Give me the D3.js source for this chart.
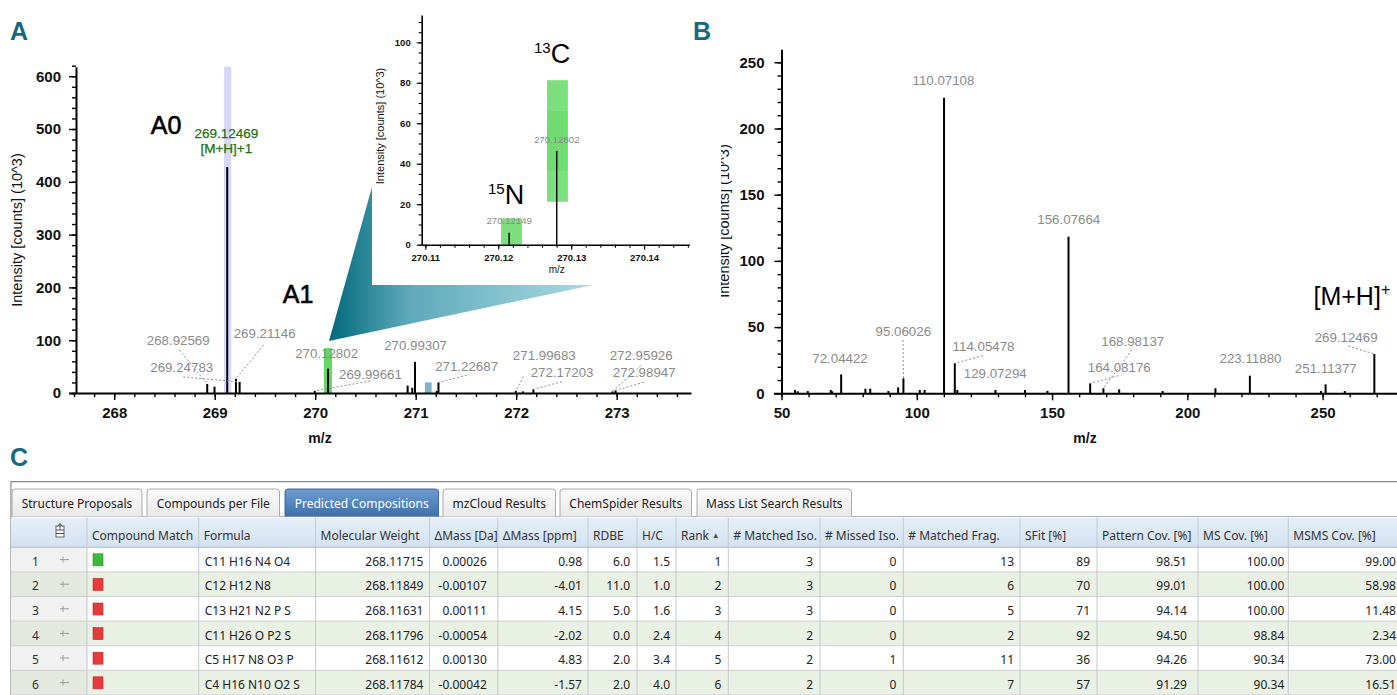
<!DOCTYPE html>
<html>
<head>
<meta charset="utf-8">
<script src="https://cdn.jsdelivr.net/npm/d3@7"></script>
<style>
  body { margin: 0; background: #fff; }
  svg { display: block; font-family: "Liberation Sans", Arial, sans-serif; }
  .tbl text { font-family: "Noto Sans", sans-serif; }
</style>
</head>
<body>
<svg id="fig" width="1397" height="695"></svg>
<script>
// ---------- panel A : full scan around the precursor (m/z, intensity in 10^3) ----------
const mzA  = [268.92569, 268.998, 269.12469, 269.21146, 269.24783, 269.99661, 270.12802,
              270.920, 270.966, 270.99307, 271.210, 271.22687, 271.99683, 272.067, 272.17203,
              272.95926, 272.98947];
const intA = [17, 12, 428, 27, 21, 4, 46, 14, 10, 59, 4, 20, 4, 3, 7, 3, 5];

// labelled peaks, where each label sits and where its dashed leader starts (data units)
const labelMzA  = [268.92569, 269.24783, 269.21146, 270.12802, 269.99661, 270.99307,
                   271.22687, 271.99683, 272.17203, 272.95926, 272.98947];
const labelAtA  = [[268.637, 90.9], [268.672, 40.3], [269.497, 104], [270.114, 66.9], [270.55, 26.5],
                   [270.999, 81.4], [271.507, 41.7], [272.28, 62.5], [272.457, 30.3], [273.244, 62.5], [273.274, 30.3]];
const leadFromA = [[268.647, 81.4], [268.687, 30.3], [269.486, 91], null, [270.547, 22.7], null,
                   [271.509, 34], [272.073, 30.9], [272.455, 21.4], [273.24, 51.7], [273.27, 20.3]];

// highlighted isotope windows (m/z from - to, intensity top)
const bandLoA  = [269.092, 270.087, 271.092];
const bandHiA  = [269.165, 270.167, 271.159];
const bandTopA = [618, 85, 20];
const bandColA = ["#d7d7f7", "#62d862", "#7fb3c8"];

const precursorTxt = ["269.12469", "[M+H]+1"];

// ---------- inset : zoom on A1 ----------
const mzIn  = [270.12149, 270.12802];
const intIn = [5.9, 46.3];
const boxLoIn  = [270.12038, 270.12668, 270.12668];
const boxHiIn  = [270.12326, 270.12955, 270.12955];
const boxBotIn = [0, 21.2, 36.5];
const boxTopIn = [13, 81.3, 66];
const labelAtIn = [[270.1215, 10.2], [270.12803, 50.4]];

// ---------- panel B : MS2 of 269.12469 ----------
const mzB  = [55.0, 56.0, 59.7, 68.2, 68.7, 72.04422, 81.0, 82.8, 89.5, 93.1, 95.06026, 101.1, 102.9,
              110.07108, 114.05478, 115.0, 129.07294, 140.0, 148.3, 156.07664, 164.08176, 168.98137,
              174.8, 190.9, 210.4, 223.1188, 249.4, 251.11377, 258.2, 269.12469];
const intB = [2.5, 1.5, 1.7, 2.5, 1.5, 14.3, 3.5, 3.5, 1.7, 4.5, 11.3, 2.5, 2.5,
              223.3, 22.7, 2.5, 2.5, 2.5, 1.8, 118.3, 7.5, 3.8,
              3, 1.7, 3.8, 13.3, 1.7, 6.8, 1.7, 29.7];
const labelMzB  = [72.04422, 95.06026, 110.07108, 114.05478, 129.07294, 156.07664,
                   164.08176, 168.98137, 223.1188, 251.11377, 269.12469];
const labelAtB  = [[71.63, 23.1], [95.03, 43.3], [109.85, 232.9], [124.68, 31.9], [129.0, 11.8], [156.17, 127.6],
                   [174.84, 16.3], [179.83, 35.7], [223.35, 22.7], [251.18, 15.1], [258.69, 39]];
const leadFromB = [null, [94.92, 40.3], null, [124.38, 28.4], null, null,
                   [174.5, 13.3], [179.46, 32.7], null, null, [259.54, 35.7]];

// ---------- panel C : predicted compositions table ----------
const tabNames = ["Structure Proposals", "Compounds per File", "Predicted Compositions",
                  "mzCloud Results", "ChemSpider Results", "Mass List Search Results"];
const headers = ["", "Compound Match", "Formula", "Molecular Weight", "ΔMass [Da]", "ΔMass [ppm]", "RDBE", "H/C",
                 "Rank", "# Matched Iso.", "# Missed Iso.", "# Matched Frag.", "SFit [%]",
                 "Pattern Cov. [%]", "MS Cov. [%]", "MSMS Cov. [%]"];
const compoundMatch = [true, false, false, false, false, false];
const formula   = ["C11 H16 N4 O4", "C12 H12 N8", "C13 H21 N2 P S", "C11 H26 O P2 S", "C5 H17 N8 O3 P", "C4 H16 N10 O2 S"];
const molWeight = [268.11715, 268.11849, 268.11631, 268.11796, 268.11612, 268.11784];
const dMassDa   = [0.00026, -0.00107, 0.00111, -0.00054, 0.00130, -0.00042];
const dMassPpm  = [0.98, -4.01, 4.15, -2.02, 4.83, -1.57];
const rdbe      = [6.0, 11.0, 5.0, 0.0, 2.0, 2.0];
const hc        = [1.5, 1.0, 1.6, 2.4, 3.4, 4.0];
const rank      = [1, 2, 3, 4, 5, 6];
const matchedIso  = [3, 3, 3, 2, 2, 2];
const missedIso   = [0, 0, 0, 0, 1, 0];
const matchedFrag = [13, 6, 5, 2, 11, 7];
const sfit        = [89, 70, 71, 92, 36, 57];
const patternCov  = [98.51, 99.01, 94.14, 94.50, 94.26, 91.29];
const msCov       = [100.00, 100.00, 100.00, 98.84, 90.34, 90.34];
const msmsCov     = [99.00, 58.98, 11.48, 2.34, 73.00, 16.51];

const FONT = '"Liberation Sans", Arial, sans-serif';
const svg = d3.select("#fig");
const defs = svg.append("defs");
const f5 = d3.format(".5f");

// major + minor ticks, one g each
function axisPair(g, axisFn, scale, major, minor, o) {
  const mi = g.append("g").call(axisFn(scale).tickValues(minor).tickSize(o.minor).tickSizeOuter(0).tickFormat(""));
  mi.select(".domain").remove();
  const ma = g.append("g").call(axisFn(scale).tickValues(major).tickSize(o.major)
    .tickSizeOuter(0).tickPadding(o.pad).tickFormat(o.fmt || d3.format("d")));
  ma.select(".domain").attr("stroke", "#000").attr("stroke-width", o.lw);
  g.selectAll(".tick line").attr("stroke", "#000").attr("stroke-width", o.tw);
  ma.selectAll(".tick text").attr("font-family", FONT).attr("font-size", o.fs)
    .attr("font-weight", "bold").attr("fill", "#111");
  return ma;
}
function steps(a, b, s) {
  const n = Math.round((b - a) / s);
  return d3.range(n + 1).map(i => +(a + i * s).toFixed(6));
}

function drawLabels(g, x, y, mz, ints, labelMz, at, from, fs) {
  const top = m => ints[mz.indexOf(m)];
  g.selectAll(null).data(labelMz.map((m, i) => ({m, i}))
    .filter(d => from && from[d.i])).join("line")
    .attr("x1", d => x(from[d.i][0])).attr("y1", d => y(from[d.i][1]))
    .attr("x2", d => x(d.m)).attr("y2", d => y(top(d.m)))
    .attr("stroke", "#8e8e8e").attr("stroke-width", 1).attr("stroke-dasharray", "2,2");
  g.selectAll(null).data(labelMz).join("text")
    .attr("x", (d, i) => x(at[i][0])).attr("y", (d, i) => y(at[i][1]))
    .attr("text-anchor", "middle").attr("font-size", fs).attr("fill", "#8a8a8a")
    .text(d => f5(d));
}

// ================= panel A =================
const xA = d3.scaleLinear().domain([267.55, 273.74]).range([69, 691]);
const yA = d3.scaleLinear().domain([0, 618]).range([393, 66.7]);
const gA = svg.append("g");

gA.selectAll("rect.band").data(bandLoA).join("rect").attr("class", "band")
  .attr("x", d => xA(d)).attr("width", (d, i) => xA(bandHiA[i]) - xA(d))
  .attr("y", (d, i) => yA(bandTopA[i])).attr("height", (d, i) => yA(0) - yA(bandTopA[i]))
  .attr("fill", (d, i) => bandColA[i]);

gA.selectAll("line.pk").data(mzA).join("line").attr("class", "pk")
  .attr("x1", d => xA(d)).attr("x2", d => xA(d))
  .attr("y1", yA(0)).attr("y2", (d, i) => yA(intA[i]))
  .attr("stroke", "#000").attr("stroke-width", 2);

drawLabels(gA, xA, yA, mzA, intA, labelMzA, labelAtA, leadFromA, 13.3);

gA.selectAll("text.prec").data(precursorTxt).join("text").attr("class", "prec")
  .attr("x", xA(269.116)).attr("y", (d, i) => yA(483 - i * 28.5))
  .attr("text-anchor", "middle").attr("font-size", 13.5).attr("fill", "#22720f")
  .attr("stroke", "#22720f").attr("stroke-width", 0.25).text(d => d);

axisPair(gA.append("g").attr("transform", "translate(0,393)"), d3.axisBottom, xA,
  steps(268, 273, 1), steps(267.6, 273.6, 0.2), {major: 7, minor: 4, pad: 7, lw: 2, tw: 1.4, fs: 15});
axisPair(gA.append("g").attr("transform", "translate(76,0)"), d3.axisLeft, yA,
  steps(0, 600, 100), steps(0, 610, 20), {major: 7, minor: 4, pad: 8, lw: 2, tw: 1.4, fs: 15});

gA.append("text").attr("transform", "translate(22,230) rotate(-90)").attr("text-anchor", "middle")
  .attr("font-size", 14.5).attr("fill", "#111").text("Intensity [counts] (10^3)");
gA.append("text").attr("x", 320).attr("y", 443).attr("text-anchor", "middle")
  .attr("font-size", 14).attr("font-weight", "bold").attr("fill", "#111").text("m/z");

gA.append("text").attr("x", 166).attr("y", 134).attr("text-anchor", "middle").attr("font-size", 25)
  .attr("stroke", "#000").attr("stroke-width", 0.6).text("A0");
gA.append("text").attr("x", 298).attr("y", 303).attr("text-anchor", "middle").attr("font-size", 25)
  .attr("stroke", "#000").attr("stroke-width", 0.6).text("A1");

// callout wedge + inset background
const grad = defs.append("linearGradient").attr("id", "wedge")
  .attr("gradientUnits", "userSpaceOnUse").attr("x1", 329).attr("y1", 0).attr("x2", 593).attr("y2", 0);
grad.append("stop").attr("offset", 0).attr("stop-color", "#006a7c");
grad.append("stop").attr("offset", 0.3).attr("stop-color", "#5ea9b9");
grad.append("stop").attr("offset", 1).attr("stop-color", "#a9dae3");
svg.append("path").attr("d", "M329,341 L372,187 L593,285 Z").attr("fill", "url(#wedge)");
svg.append("rect").attr("x", 372).attr("y", 0).attr("width", 318).attr("height", 285).attr("fill", "#fff");

// ================= inset =================
const xI = d3.scaleLinear().domain([270.1095, 270.1462]).range([421.7, 689.3]);
const yI = d3.scaleLinear().domain([0, 113.5]).range([244.7, 15]);
const gI = svg.append("g");

gI.selectAll("rect").data(boxLoIn).join("rect")
  .attr("x", d => xI(d)).attr("width", (d, i) => xI(boxHiIn[i]) - xI(d))
  .attr("y", (d, i) => yI(boxTopIn[i])).attr("height", (d, i) => yI(boxBotIn[i]) - yI(boxTopIn[i]))
  .attr("fill", "#52d452").attr("fill-opacity", (d, i) => i === 2 ? 0.3 : 0.75);
gI.selectAll("line.pk").data(mzIn).join("line").attr("class", "pk")
  .attr("x1", d => xI(d)).attr("x2", d => xI(d)).attr("y1", yI(0)).attr("y2", (d, i) => yI(intIn[i]))
  .attr("stroke", "#000").attr("stroke-width", 1.4);
drawLabels(gI, xI, yI, mzIn, intIn, mzIn, labelAtIn, null, 9.6);

axisPair(gI.append("g").attr("transform", "translate(0,244.7)"), d3.axisBottom, xI,
  steps(270.11, 270.14, 0.01), steps(270.11, 270.146, 0.002),
  {major: 5, minor: 3, pad: 5, lw: 1.6, tw: 1.1, fs: 9.5, fmt: d3.format(".2f")});
axisPair(gI.append("g").attr("transform", "translate(421.7,0)"), d3.axisLeft, yI,
  steps(0, 100, 20), steps(0, 110, 5), {major: 5, minor: 3, pad: 6, lw: 1.6, tw: 1.1, fs: 9.5});

gI.append("text").attr("transform", "translate(384,126) rotate(-90)").attr("text-anchor", "middle")
  .attr("font-size", 11).attr("fill", "#111").text("Intensity [counts] (10^3)");
gI.append("text").attr("x", 556.7).attr("y", 273).attr("text-anchor", "middle")
  .attr("font-size", 10).attr("fill", "#111").text("m/z");

function isoLabel(x, yb, sup, el) {
  const t = gI.append("text").attr("x", x).attr("y", yb).attr("fill", "#000");
  t.append("tspan").attr("font-size", 15).attr("dy", -10).text(sup);
  t.append("tspan").attr("font-size", 27).attr("dy", 10).text(el);
}
isoLabel(534, 63.3, "13", "C");
isoLabel(488, 204, "15", "N");

// ================= panel B =================
const xB = d3.scaleLinear().domain([47.0, 277.5]).range([773.4, 1397]);
const yB = d3.scaleLinear().domain([0, 259.8]).range([393.3, 49.3]);
const gB = svg.append("g");

gB.selectAll("line.pk").data(mzB).join("line").attr("class", "pk")
  .attr("x1", d => xB(d)).attr("x2", d => xB(d)).attr("y1", yB(0)).attr("y2", (d, i) => yB(intB[i]))
  .attr("stroke", "#000").attr("stroke-width", 2);
drawLabels(gB, xB, yB, mzB, intB, labelMzB, labelAtB, leadFromB, 13.3);

axisPair(gB.append("g").attr("transform", "translate(0,393.3)"), d3.axisBottom, xB,
  steps(50, 250, 50), steps(50, 270, 10), {major: 7, minor: 4, pad: 7, lw: 2, tw: 1.4, fs: 15});
axisPair(gB.append("g").attr("transform", "translate(781.5,0)"), d3.axisLeft, yB,
  steps(0, 250, 50), steps(0, 250, 10), {major: 7, minor: 4, pad: 10, lw: 2, tw: 1.4, fs: 15});

// y title of B is partly cut off in the source figure
defs.append("clipPath").attr("id", "clipB").append("rect")
  .attr("x", 721).attr("y", 0).attr("width", 40).attr("height", 450);
gB.append("g").attr("clip-path", "url(#clipB)").append("text")
  .attr("transform", "translate(729,221) rotate(-90)").attr("text-anchor", "middle")
  .attr("font-size", 14.5).attr("fill", "#111").text("Intensity [counts] (10^3)");
gB.append("text").attr("x", 1085).attr("y", 443).attr("text-anchor", "middle")
  .attr("font-size", 14).attr("font-weight", "bold").attr("fill", "#111").text("m/z");

const mh = gB.append("text").attr("x", 1313.5).attr("y", 305).attr("font-size", 25).attr("fill", "#000");
mh.append("tspan").text("[M+H]");
mh.append("tspan").attr("font-size", 16).attr("dy", -10).text("+");

// panel letters
svg.selectAll("text.letter").data([["A", 10, 40], ["B", 693, 40], ["C", 10, 466]]).join("text")
  .attr("class", "letter").attr("x", d => d[1]).attr("y", d => d[2]).attr("font-size", 25)
  .attr("font-weight", "bold").attr("fill", "#17697e").text(d => d[0]);

// ================= panel C : table =================
const gC = svg.append("g").attr("class", "tbl");
function vgrad(id, a, b) {
  const g = defs.append("linearGradient").attr("id", id).attr("x1", 0).attr("y1", 0).attr("x2", 0).attr("y2", 1);
  g.append("stop").attr("offset", 0).attr("stop-color", a);
  g.append("stop").attr("offset", 1).attr("stop-color", b);
}
vgrad("tabOff", "#fbfbfb", "#e9e9e9");
vgrad("tabOn", "#6d9dd1", "#3f6fa9");
vgrad("head", "#e6eff9", "#d2e1f1");

// frame
gC.append("path").attr("d", "M11,695 V481.7 H1397").attr("fill", "none").attr("stroke", "#8a8a8a").attr("stroke-width", 1.2);
gC.append("line").attr("x1", 11).attr("x2", 1397).attr("y1", 516.5).attr("y2", 516.5).attr("stroke", "#b4b4b4");

const tabSpan = [[12, 142], [147, 279.5], [285, 438.5], [443, 555.5], [560, 691.5], [697, 851.5]];
const tabG = gC.selectAll("g.tab").data(tabNames).join("g").attr("class", "tab");
tabG.append("path")
  .attr("d", (d, i) => { const [a, b] = tabSpan[i];
    return `M${a},516.5 V492 Q${a},489 ${a + 3},489 H${b - 3} Q${b},489 ${b},492 V516.5`; })
  .attr("fill", (d, i) => i === 2 ? "url(#tabOn)" : "url(#tabOff)")
  .attr("stroke", (d, i) => i === 2 ? "#3b6799" : "#aaaaaa");
tabG.append("text").attr("x", (d, i) => (tabSpan[i][0] + tabSpan[i][1]) / 2).attr("y", 508)
  .attr("text-anchor", "middle").attr("font-size", 12)
  .attr("fill", (d, i) => i === 2 ? "#fff" : "#222").text(d => d);

const colEdges = [11, 87, 198.7, 315.6, 429.5, 497.8, 588, 637, 676, 728.3, 820, 903.3, 1020, 1097, 1198, 1288.3, 1402];
const padR = [0, 0, 0, 6, 11, 6, 7, 6, 7, 7, 7, 6, 7, 11, 4, 6];
const headTop = 517.7, headBot = 547.3;
const row = d3.scaleLinear().domain([0, 6]).range([headBot, headBot + 6 * 24.6]);

gC.append("rect").attr("x", 11).attr("y", headTop).attr("width", 1391).attr("height", headBot - headTop).attr("fill", "url(#head)");

// body rows
const rows = d3.range(formula.length);
gC.selectAll("rect.row").data(rows).join("rect").attr("class", "row")
  .attr("x", 11).attr("width", 1391).attr("y", d => row(d)).attr("height", row(1) - row(0))
  .attr("fill", d => d % 2 ? "#e9f0e4" : "#ffffff");
gC.selectAll("rect.rh").data(rows).join("rect").attr("class", "rh")
  .attr("x", 11).attr("width", 76).attr("y", d => row(d)).attr("height", row(1) - row(0))
  .attr("fill", d => d % 2 ? "#e4e9df" : "#f1f1f1");

// grid
gC.selectAll("line.hl").data(d3.range(formula.length + 1)).join("line").attr("class", "hl")
  .attr("x1", 11).attr("x2", 1402).attr("y1", d => row(d)).attr("y2", d => row(d))
  .attr("stroke", d => d === 0 ? "#a9bcd1" : "#cfcfcf");
gC.selectAll("line.vl").data(colEdges.slice(1, -1)).join("line").attr("class", "vl")
  .attr("x1", d => d).attr("x2", d => d).attr("y1", headTop).attr("y2", 695)
  .attr("stroke", "#c4c9cf");

// header text
gC.selectAll("text.hd").data(headers).join("text").attr("class", "hd")
  .attr("x", (d, i) => colEdges[i] + 5).attr("y", 540).attr("font-size", 12).attr("fill", "#333").text(d => d);
gC.append("text").attr("x", 715.7).attr("y", 538).attr("text-anchor", "middle").attr("font-size", 8)
  .attr("fill", "#555").text("▲");
// header icon
gC.append("rect").attr("x", 56).attr("y", 526).attr("width", 8).attr("height", 11).attr("fill", "#fff").attr("stroke", "#666");
gC.append("path").attr("d", "M56,530 H64 M56,533.5 H64 M60,524 V530 M57.5,526.5 L60,523.5 L62.5,526.5")
  .attr("stroke", "#555").attr("fill", "none");

// row header: number + pin
gC.selectAll("text.rn").data(rows).join("text").attr("class", "rn")
  .attr("x", 35.5).attr("y", d => row(d) + 18.5).attr("text-anchor", "middle")
  .attr("font-size", 12).attr("fill", "#333").text(d => d + 1);
gC.selectAll("path.pin").data(rows).join("path").attr("class", "pin")
  .attr("d", d => { const m = row(d) + 12.3; return `M60,${m} H69 M63,${m - 3} V${m + 3}`; })
  .attr("stroke", "#9a9a9a").attr("fill", "none");

// compound match squares
gC.selectAll("rect.cm").data(compoundMatch).join("rect").attr("class", "cm")
  .attr("x", 93).attr("y", (d, i) => row(i) + 6.5).attr("width", 10).attr("height", 12)
  .attr("fill", d => d ? "#3cb83c" : "#e83a3a").attr("stroke", d => d ? "#2a8f2a" : "#b82828").attr("stroke-width", 0.6);

// cells
const fmt2 = d3.format(".2f"), fmt1 = d3.format(".1f");
const cols = [
  {c: 2, v: formula, f: d => d, left: true},
  {c: 3, v: molWeight, f: f5},
  {c: 4, v: dMassDa, f: f5},
  {c: 5, v: dMassPpm, f: fmt2},
  {c: 6, v: rdbe, f: fmt1},
  {c: 7, v: hc, f: fmt1},
  {c: 8, v: rank, f: d => d},
  {c: 9, v: matchedIso, f: d => d},
  {c: 10, v: missedIso, f: d => d},
  {c: 11, v: matchedFrag, f: d => d},
  {c: 12, v: sfit, f: d => d},
  {c: 13, v: patternCov, f: fmt2},
  {c: 14, v: msCov, f: fmt2},
  {c: 15, v: msmsCov, f: fmt2}
];
cols.forEach(col => {
  gC.selectAll(null).data(col.v).join("text")
    .attr("x", col.left ? colEdges[col.c] + 6 : colEdges[col.c + 1] - padR[col.c])
    .attr("y", (d, i) => row(i) + 18.5)
    .attr("text-anchor", col.left ? "start" : "end")
    .attr("font-size", 12).attr("fill", "#222")
    .text(d => String(col.f(d)).replace("\u2212", "-"));
});
</script>
</body>
</html>
